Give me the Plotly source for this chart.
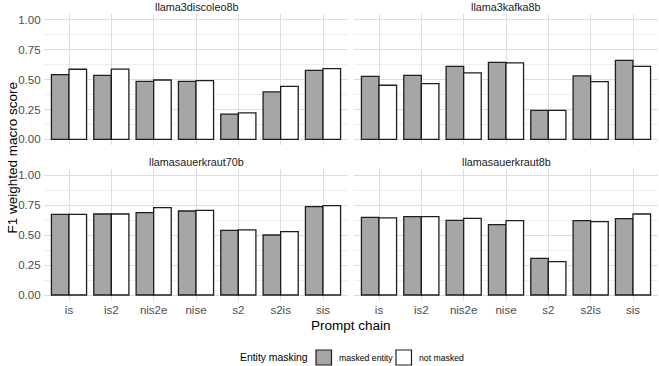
import plotly.graph_objects as go

W, H = 659, 366

models = ["llama3discoleo8b", "llama3kafka8b", "llamasauerkraut70b", "llamasauerkraut8b"]
chains = ["is", "is2", "nis2e", "nise", "s2", "s2is", "sis"]
masked = {
    "llama3discoleo8b":   [0.542, 0.536, 0.486, 0.486, 0.212, 0.397, 0.578],
    "llama3kafka8b":      [0.528, 0.536, 0.612, 0.645, 0.243, 0.531, 0.662],
    "llamasauerkraut70b": [0.672, 0.675, 0.686, 0.700, 0.539, 0.500, 0.736],
    "llamasauerkraut8b":  [0.647, 0.653, 0.622, 0.586, 0.306, 0.619, 0.636],
}
not_masked = {
    "llama3discoleo8b":   [0.587, 0.589, 0.497, 0.492, 0.221, 0.444, 0.592],
    "llama3kafka8b":      [0.453, 0.466, 0.556, 0.640, 0.243, 0.483, 0.612],
    "llamasauerkraut70b": [0.672, 0.675, 0.728, 0.706, 0.542, 0.528, 0.744],
    "llamasauerkraut8b":  [0.642, 0.653, 0.639, 0.619, 0.278, 0.611, 0.675],
}
y_ticks = [0, 0.25, 0.5, 0.75, 1.0]
y_tick_labels = ["0.00", "0.25", "0.50", "0.75", "1.00"]
series_names = ["masked entity", "not masked"]
legend_title = "Entity masking"

FONT = "Liberation Sans, Arial, sans-serif"
GRID = "#DEDEDE"
GRID_MINOR = "#EEEEEE"
TICK_COL = "#4D4D4D"
GRAY_FILL = "#A6A6A6"
WHITE_FILL = "#FFFFFF"
EDGE = "#1E1E1E"
fills = [GRAY_FILL, WHITE_FILL]

# panel geometry in pixels
xl = [(43.6, 348.4), (353.6, 658.4)]
yt = [(14.0, 145.3), (169.0, 301.0)]

fig = go.Figure()
annotations = []
shapes = []
for i, m in enumerate(models):
    r, c = divmod(i, 2)
    idx = "" if i == 0 else str(i + 1)
    xa, ya = "x" + idx, "y" + idx
    for name, vals, fill in [(series_names[0], masked[m], fills[0]),
                             (series_names[1], not_masked[m], fills[1])]:
        fig.add_trace(go.Bar(
            x=chains, y=vals, name=name, xaxis=xa, yaxis=ya,
            marker=dict(color=fill, line=dict(color=EDGE, width=1.3)),
            showlegend=False,
        ))
    x0, x1 = xl[c]
    y0, y1 = yt[r]
    fig.layout["xaxis" + idx] = dict(
        domain=[x0 / W, x1 / W], anchor=ya, type="category",
        categoryorder="array", categoryarray=chains,
        range=[-0.6, 6.6], showgrid=True, gridcolor=GRID, gridwidth=1,
        showline=False, zeroline=False, ticks="",
        showticklabels=(r == 1),
        tickfont=dict(family=FONT, size=11.5, color=TICK_COL),
        fixedrange=True,
    )
    fig.layout["yaxis" + idx] = dict(
        domain=[(H - y1) / H, (H - y0) / H], anchor=xa,
        range=[-0.05, 1.05], tickvals=y_ticks, ticktext=y_tick_labels,
        showgrid=True, gridcolor=GRID, gridwidth=1, zeroline=False,
        showline=False, ticks="", showticklabels=(c == 0),
        ticklabelstandoff=2,
        tickfont=dict(family=FONT, size=11.5, color=TICK_COL),
        minor=dict(tickvals=[0.125, 0.375, 0.625, 0.875], showgrid=True,
                   gridcolor=GRID_MINOR, gridwidth=1),
        fixedrange=True,
    )
    annotations.append(dict(
        text=m, x=(x0 + x1) / 2 / W, y=(H - (y0 - 7)) / H, xref="paper", yref="paper",
        xanchor="center", yanchor="middle", showarrow=False,
        font=dict(family=FONT, size=10.8, color="#1A1A1A"),
    ))

annotations.append(dict(
    text="Prompt chain", x=351 / W, y=(H - 325) / H, xref="paper", yref="paper",
    xanchor="center", yanchor="middle", showarrow=False,
    font=dict(family=FONT, size=13.5, color="#000000"),
))
annotations.append(dict(
    text="F1 weighted macro score", x=12 / W, y=(H - 157.5) / H, xref="paper", yref="paper",
    xanchor="center", yanchor="middle", showarrow=False, textangle=-90,
    font=dict(family=FONT, size=13.5, color="#000000"),
))

# legend (drawn as key boxes + text to match ggplot layout)
leg_y = 357.5
annotations.append(dict(
    text=legend_title, x=310 / W, y=(H - leg_y) / H, xref="paper", yref="paper",
    xanchor="right", yanchor="middle", showarrow=False,
    font=dict(family=FONT, size=10.4, color="#000000"),
))
key_x = [316, 396]
for kx, name, fill in zip(key_x, series_names, fills):
    shapes.append(dict(
        type="rect", xref="paper", yref="paper",
        x0=kx / W, x1=(kx + 15.5) / W, y0=(H - 365) / H, y1=(H - 350) / H,
        fillcolor=fill, line=dict(color=EDGE, width=1.2), layer="above",
    ))
    annotations.append(dict(
        text=name, x=(kx + 21) / W, y=(H - leg_y) / H, xref="paper", yref="paper",
        xanchor="left", yanchor="middle", showarrow=False,
        font=dict(family=FONT, size=8.7, color="#000000"),
    ))

fig.update_layout(
    width=W, height=H, margin=dict(l=0, r=0, t=0, b=0),
    paper_bgcolor="white", plot_bgcolor="white",
    barmode="group", bargap=0.17, bargroupgap=0,
    annotations=annotations, shapes=shapes,
    showlegend=False,
)

fig.write_html("out.html")
